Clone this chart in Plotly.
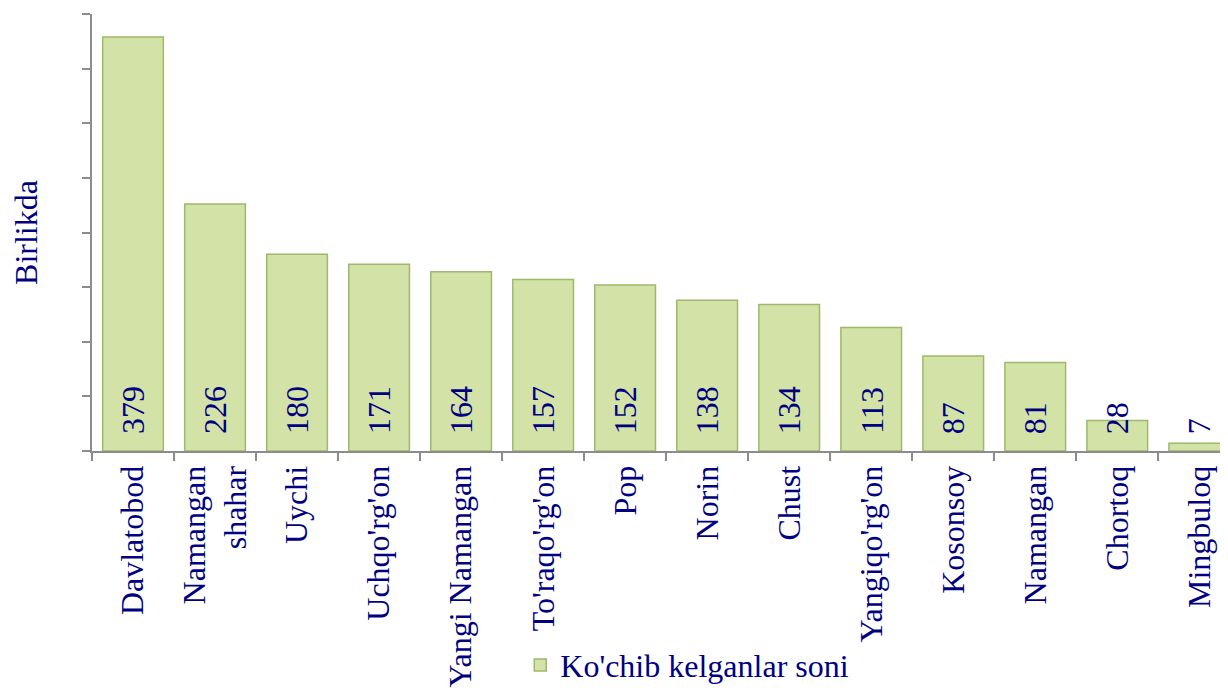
import plotly.graph_objects as go

# districts and number of arrivals
districts = [
    "Davlatobod", "Namangan<br>shahar", "Uychi", "Uchqo'rg'on", "Yangi Namangan",
    "To'raqo'rg'on", "Pop", "Norin", "Chust", "Yangiqo'rg'on",
    "Kosonsoy", "Namangan", "Chortoq", "Mingbuloq",
]
arrivals = [379, 226, 180, 171, 164, 157, 152, 138, 134, 113, 87, 81, 28, 7]
series_name = "Ko'chib kelganlar soni"
y_title = "Birlikda"

navy = "#000080"
serif = "Liberation Serif, Times New Roman, serif"
bar_fill = "#d3e3a8"
bar_edge = "#9fb86b"
axis_grey = "#8c8c8c"

fig = go.Figure()
fig.add_trace(
    go.Bar(
        x=districts,
        y=arrivals,
        name=series_name,
        marker=dict(color=bar_fill, line=dict(color=bar_edge, width=1.5)),
        width=0.74,
        showlegend=True,
    )
)

# value labels sit at the foot of each bar, rotated
for d, v in zip(districts, arrivals):
    fig.add_annotation(
        x=d,
        y=0,
        text=str(v),
        textangle=-90,
        showarrow=False,
        yanchor="bottom",
        xanchor="center",
        yshift=15,
        xshift=0,
        font=dict(family=serif, size=32, color=navy),
    )

# page body adds 8px around the figure, so the figure is 8px smaller
fig.update_layout(
    width=1220,
    height=682,
    plot_bgcolor="white",
    paper_bgcolor="white",
    margin=dict(l=84, r=0, t=6, b=239, pad=0, autoexpand=False),
    font=dict(family=serif, size=32, color=navy),
    showlegend=True,
    legend=dict(
        x=0.377,
        y=-0.49,
        xanchor="left",
        yanchor="middle",
        orientation="h",
        font=dict(family=serif, size=32, color=navy),
        bgcolor="rgba(0,0,0,0)",
    ),
    xaxis=dict(
        range=[-0.5, 13.35],
        tickangle=-90,
        tickson="boundaries",
        ticks="outside",
        ticklen=8,
        tickcolor=axis_grey,
        tickwidth=2,
        showline=True,
        linecolor=axis_grey,
        linewidth=2,
        showgrid=False,
        automargin=False,
        tickfont=dict(family=serif, size=32, color=navy),
    ),
    yaxis=dict(
        range=[0, 400],
        dtick=50,
        showticklabels=False,
        ticks="outside",
        ticklen=8,
        tickcolor=axis_grey,
        tickwidth=2,
        showline=True,
        linecolor=axis_grey,
        linewidth=2,
        showgrid=False,
        zeroline=False,
        automargin=False,
        title=dict(text=y_title, font=dict(family=serif, size=32, color=navy), standoff=40),
    ),
)

fig.write_html("out.html")
